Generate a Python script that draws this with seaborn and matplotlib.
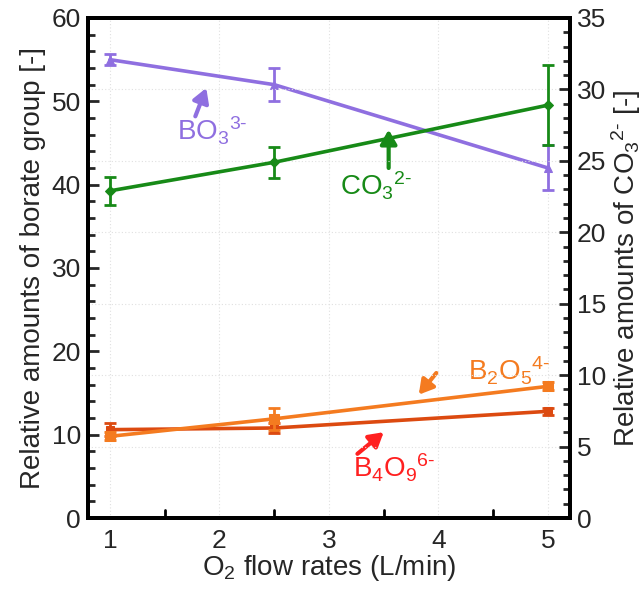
import numpy as np
import pandas as pd
import matplotlib
matplotlib.use("Agg")
import matplotlib.pyplot as plt
from matplotlib.ticker import MultipleLocator
import seaborn as sns

# O2 flow rates (L/min)
flow = [1, 2.5, 5]

# Borate groups (left axis) and carbonate (right axis)
bo3 = [55.0, 52.0, 42.0]
bo3_err = [0.7, 2.0, 2.7]
b2o5 = [9.8, 11.9, 15.8]
b2o5_err = [0.5, 1.3, 0.5]
b4o9 = [10.6, 10.8, 12.8]
b4o9_err = [0.8, 0.6, 0.4]
co3 = [22.9, 24.9, 28.9]
co3_err = [1.0, 1.1, 2.8]

sns.set_theme(style="white")
plt.rcParams["font.family"] = ["Liberation Sans", "DejaVu Sans"]
plt.rcParams["mathtext.fontset"] = "custom"
plt.rcParams["mathtext.rm"] = "Liberation Sans"
plt.rcParams["mathtext.it"] = "Liberation Sans"

C_BO3 = "#8f6fe0"
C_CO3 = "#178a17"
C_B2O5 = "#f47b20"
C_B4O9 = "#dc4a10"
C_B4O9_TXT = "#ff2020"
HY = "\u2010"  # plain hyphen for the ionic charges

FS_TICK = 19
FS_LAB = 20
FS_ANN = 20

fig = plt.figure(figsize=(6.44, 5.92), dpi=100)
ax = fig.add_axes([0.1366, 0.125, 0.7484, 0.8446])
ax2 = ax.twinx()

df = pd.DataFrame({"flow": flow, "bo3": bo3, "b2o5": b2o5, "b4o9": b4o9, "co3": co3})

def draw(axis, col, err, color, marker, ms):
    sns.lineplot(data=df, x="flow", y=col, ax=axis, color=color, lw=2.6,
                 marker=marker, markersize=ms, markeredgecolor=color, zorder=3)
    axis.errorbar(df["flow"], df[col], yerr=err, fmt="none", ecolor=color,
                  elinewidth=2, capsize=4, capthick=2, zorder=3)

draw(ax, "b4o9", b4o9_err, C_B4O9, "s", 6)
draw(ax, "b2o5", b2o5_err, C_B2O5, "s", 7)
draw(ax, "bo3", bo3_err, C_BO3, "^", 6)
draw(ax2, "co3", co3_err, C_CO3, "D", 5)

ax.set_xlim(0.8, 5.2)
ax.set_ylim(0, 60)
ax2.set_ylim(0, 35)

ax.xaxis.set_major_locator(MultipleLocator(1))
ax.xaxis.set_minor_locator(MultipleLocator(0.1))
ax.yaxis.set_major_locator(MultipleLocator(10))
ax.yaxis.set_minor_locator(MultipleLocator(2))
ax2.yaxis.set_major_locator(MultipleLocator(5))
ax2.yaxis.set_minor_locator(MultipleLocator(1))

# faint dotted grid
for xv in range(1, 6):
    ax.axvline(xv, color="#e0e0e0", lw=0.8, ls=(0, (1, 2)), zorder=0)
for yv in range(5, 35, 5):
    ax2.axhline(yv, color="#e0e0e0", lw=0.8, ls=(0, (1, 2)), zorder=0)

for a in (ax, ax2):
    for s in a.spines.values():
        s.set_linewidth(2.8)
        s.set_color("black")
    a.set_xlabel("")
    a.set_ylabel("")

ax.tick_params(axis="x", which="major", direction="in", length=8, width=2,
               labelsize=FS_TICK, pad=8, top=False)
ax.tick_params(axis="x", which="minor", direction="in", length=4, width=1.5)
# half-unit ticks a bit longer than the rest
for xv in np.arange(1.5, 5.0, 1.0):
    ax.plot([xv, xv], [0, 0.9], color="black", lw=2, clip_on=False, zorder=4)
ax.tick_params(axis="y", which="major", direction="in", length=8, width=2,
               labelsize=FS_TICK, pad=5)
ax.tick_params(axis="y", which="minor", direction="in", length=5, width=2)
ax2.tick_params(axis="y", which="major", direction="in", length=8, width=2,
                labelsize=FS_TICK, pad=5)
ax2.tick_params(axis="y", which="minor", direction="in", length=5, width=2)

ax.set_xlabel(r"O$_2$ flow rates (L/min)", fontsize=FS_LAB, labelpad=0)
ax.set_ylabel("Relative amounts of borate group [-]", fontsize=FS_LAB, labelpad=4)
ax2.set_ylabel("Relative amounts of CO$_3$$^{2" + HY + "}$ [-]", fontsize=FS_LAB,
               labelpad=2)

def arrow(color):
    return dict(arrowstyle="-|>,head_length=0.6,head_width=0.35", lw=3.0,
                color=color, shrinkA=0, shrinkB=0, mutation_scale=14)

ax.annotate("", xy=(1.88, 51.6), xytext=(1.78, 48.2), arrowprops=arrow(C_BO3))
ax.text(1.61, 46.4, "BO$_3$$^{3" + HY + "}$", color=C_BO3, fontsize=FS_ANN,
        ha="left", va="center")

ax.annotate("", xy=(3.545, 46.6), xytext=(3.545, 42.0), arrowprops=arrow(C_CO3))
ax.text(3.10, 39.8, "CO$_3$$^{2" + HY + "}$", color=C_CO3, fontsize=FS_ANN,
        ha="left", va="center")

ax.annotate("", xy=(3.82, 14.8), xytext=(3.98, 17.4), arrowprops=arrow(C_B2O5))
ax.text(4.27, 17.6, "B$_2$O$_5$$^{4" + HY + "}$", color=C_B2O5, fontsize=FS_ANN,
        ha="left", va="center")

ax.annotate("", xy=(3.50, 10.3), xytext=(3.26, 7.7), arrowprops=arrow(C_B4O9_TXT))
ax.text(3.22, 6.0, "B$_4$O$_9$$^{6" + HY + "}$", color=C_B4O9_TXT, fontsize=FS_ANN,
        ha="left", va="center")

fig.savefig("out.png", dpi=100)
